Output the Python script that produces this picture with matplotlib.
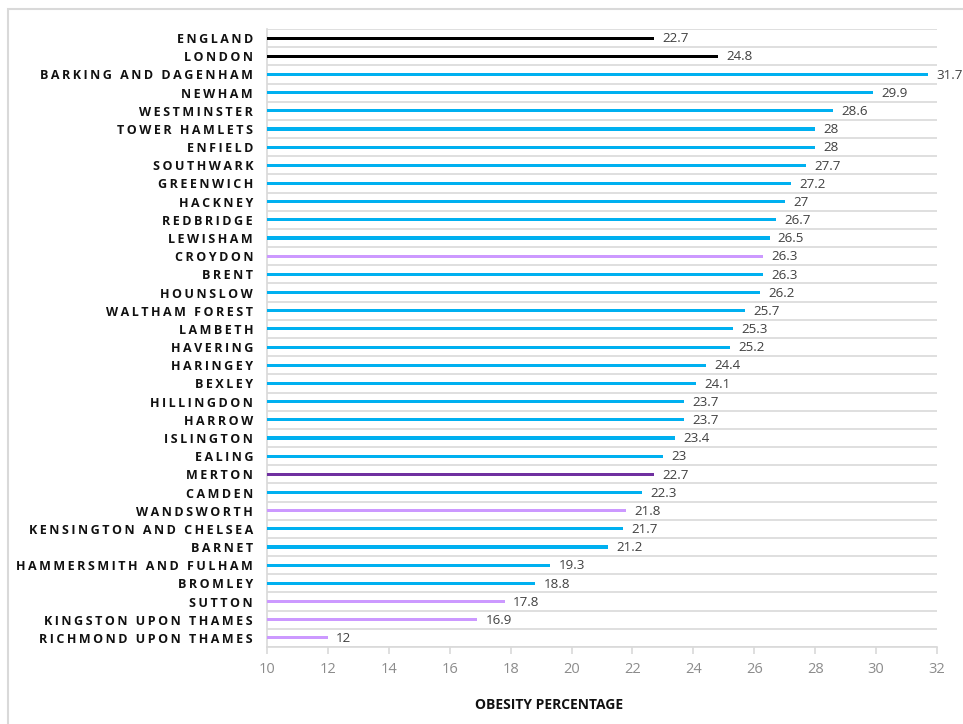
import matplotlib
matplotlib.use("Agg")
import matplotlib.pyplot as plt
from matplotlib.patches import Rectangle
import numpy as np

areas = [
    "ENGLAND", "LONDON", "BARKING AND DAGENHAM", "NEWHAM", "WESTMINSTER",
    "TOWER HAMLETS", "ENFIELD", "SOUTHWARK", "GREENWICH", "HACKNEY",
    "REDBRIDGE", "LEWISHAM", "CROYDON", "BRENT", "HOUNSLOW",
    "WALTHAM FOREST", "LAMBETH", "HAVERING", "HARINGEY", "BEXLEY",
    "HILLINGDON", "HARROW", "ISLINGTON", "EALING", "MERTON",
    "CAMDEN", "WANDSWORTH", "KENSINGTON AND CHELSEA", "BARNET",
    "HAMMERSMITH AND FULHAM", "BROMLEY", "SUTTON", "KINGSTON UPON THAMES",
    "RICHMOND UPON THAMES",
]
obesity = [
    22.7, 24.8, 31.7, 29.9, 28.6, 28, 28, 27.7, 27.2, 27,
    26.7, 26.5, 26.3, 26.3, 26.2, 25.7, 25.3, 25.2, 24.4, 24.1,
    23.7, 23.7, 23.4, 23, 22.7, 22.3, 21.8, 21.7, 21.2, 19.3,
    18.8, 17.8, 16.9, 12,
]
# group: national / outer-south-west / merton / other
group = [
    "nat", "nat", "oth", "oth", "oth", "oth", "oth", "oth", "oth", "oth",
    "oth", "oth", "sw", "oth", "oth", "oth", "oth", "oth", "oth", "oth",
    "oth", "oth", "oth", "oth", "mer", "oth", "sw", "oth", "oth", "oth",
    "oth", "sw", "sw", "sw",
]
x_ticks = [10, 12, 14, 16, 18, 20, 22, 24, 26, 28, 30, 32]

palette = {"nat": "#000000", "oth": "#00B0F0", "sw": "#CC99FF", "mer": "#7030A0"}
grid_col = "#D9D9D9"

fig = plt.figure(figsize=(9.63, 7.24), dpi=100)
ax = fig.add_axes([267 / 963, 1 - 647 / 724, (937 - 267) / 963, (647 - 29) / 724])

n = len(areas)
ypos = np.arange(n)
ax.barh(ypos, obesity, height=0.17, left=0,
        color=[palette[g] for g in group], zorder=3)

ax.set_xlim(10, 32)
ax.set_ylim(n - 0.5, -0.5)

# horizontal separators between rows
for b in np.arange(-0.5, n, 1.0):
    ax.axhline(b, color=grid_col, lw=1.2, zorder=1)

for y, v in zip(ypos, obesity):
    ax.annotate(f"{v:g}", (v, y), xytext=(6, -0.5), textcoords="offset points",
                va="center", ha="left", fontsize=9.6, color="#404040",
                family=["Open Sans", "DejaVu Sans"], annotation_clip=False)

thin = "\u2009"
ax.set_yticks(ypos)
ax.set_yticklabels([thin.join(a) for a in areas],
                   fontsize=9, fontweight="bold", color="#111111",
                   family=["Open Sans", "DejaVu Sans"])
ax.tick_params(axis="y", length=0, pad=10)

ax.set_xticks(x_ticks)
ax.set_xticklabels([str(t) for t in x_ticks], fontsize=10.5, color="#8C8C8C",
                   family=["Open Sans", "DejaVu Sans"])
ax.tick_params(axis="x", length=5, width=1.2, color=grid_col, pad=6, direction="out")

for side in ("top", "right"):
    ax.spines[side].set_visible(False)
for side in ("left", "bottom"):
    ax.spines[side].set_color(grid_col)
    ax.spines[side].set_linewidth(1.2)

fig.text(549 / 963, 1 - 705 / 724, "OBESITY PERCENTAGE", ha="center", va="center",
         fontsize=10, fontweight="bold", color="#111111",
         family=["Open Sans", "DejaVu Sans"])

fig.patches.append(Rectangle((7.5 / 963, -0.1), 1.2, 1 - 8.5 / 724 + 0.1,
                             transform=fig.transFigure, fill=False,
                             edgecolor=grid_col, lw=1.5))

fig.savefig("out.png", dpi=100)
